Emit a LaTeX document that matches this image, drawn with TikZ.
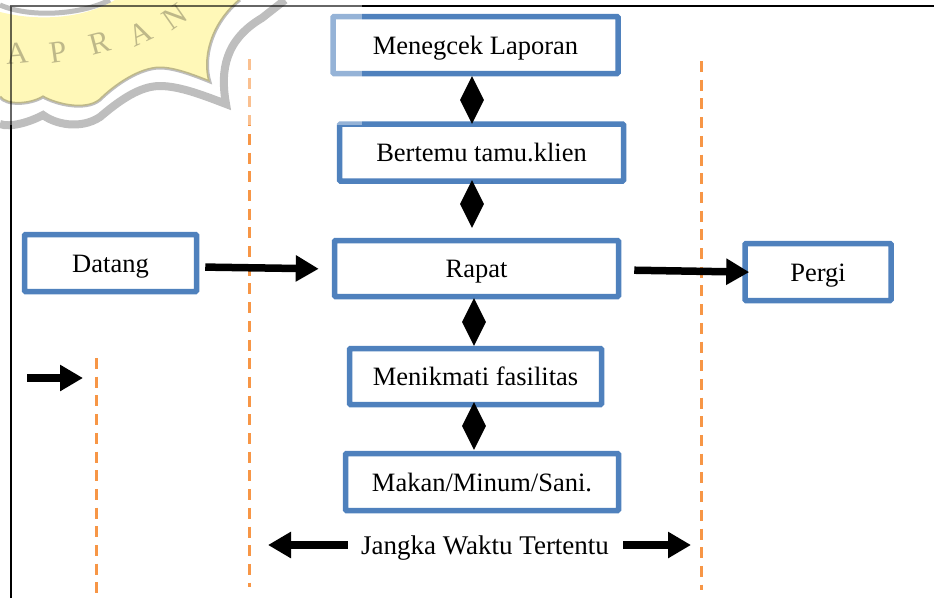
\documentclass[tikz,border=0pt]{standalone}
\usepackage{fontspec}
\setmainfont{Liberation Serif}
\usetikzlibrary{shapes.geometric, arrows.meta}
\definecolor{boxblue}{HTML}{4F81BD}
\definecolor{dashorange}{HTML}{F79646}
\definecolor{markyellow}{HTML}{FFF8B8}
\definecolor{markgray}{HTML}{BEBEBE}
\tikzset{
  textbox/.style={draw=boxblue, line width=5.5, fill=white, rounded corners=1, inner sep=0, align=center, text height=18, text depth=0, font=\fontsize{26.5}{30}\selectfont},
  linkdiamond/.style={diamond, fill=black, inner sep=0, minimum width=24, minimum height=48},
  thickarrow/.style={line width=7.5, -{Triangle[length=23,width=25]}},
  limitline/.style={dashorange, line width=3, dash pattern=on 11 off 7.7},
  markletter/.style={text=markgray, font=\fontsize{31}{31}\selectfont}
}
\begin{document}
\begin{tikzpicture}[x=1pt,y=-1pt]
    \useasboundingbox (0,0) rectangle (934,598);  % Fixes the page size
    \draw[line width=2] (11,598) -- (11,6) -- (934,6);  % Draws the frame
    \draw[limitline] (96,358) -- (96,594);  % Draws the dashed limit lines
    \draw[limitline] (249,59) -- (249,587);
    \draw[limitline] (701,61) -- (701,590);
    \node[textbox, minimum width=285, minimum height=57] (laporan) at (475.5,45) {Menegcek Laporan};  % Draws the activity boxes
    \node[textbox, minimum width=284, minimum height=57] (tamu) at (481.5,152.5) {Bertemu tamu.klien};
    \node[textbox, minimum width=284, minimum height=56] (rapat) at (476.5,268.5) {Rapat};
    \node[textbox, minimum width=252, minimum height=56] (fasilitas) at (475.5,376.5) {Menikmati fasilitas};
    \node[textbox, minimum width=273, minimum height=57] (makan) at (482,482) {Makan/Minum/Sani.};
    \node[textbox, minimum width=172, minimum height=57] (datang) at (110.5,263) {Datang};
    \node[textbox, minimum width=146, minimum height=57] (pergi) at (818,272) {Pergi};
    \node[linkdiamond] (linka) at (472,100) {};  % Draws the diamonds between the boxes
    \node[linkdiamond] (linkb) at (472,204) {};
    \node[linkdiamond] (linkc) at (474,322) {};
    \node[linkdiamond] (linkd) at (474,426) {};
    \draw[thickarrow, shorten <=6, shorten >=13] ([yshift=-4]datang.east) -- ([yshift=-0.5]rapat.west);  % Draws the big arrows
    \draw[thickarrow, shorten <=13, shorten >=-7] ([yshift=-1.5]rapat.east) -- (pergi.west);
    \coordinate (smalltail) at (27,378);
    \coordinate (smalltip) at (83,378);
    \draw[thickarrow] (smalltail) -- (smalltip);
    \node[font=\fontsize{27}{30}\selectfont, inner sep=0, text height=18, text depth=0] (jangka) at (485,545) {Jangka Waktu Tertentu};
    \coordinate (jangkakiri) at (268,545);
    \coordinate (jangkakanan) at (691,545);
    \draw[thickarrow, shorten <=13] (jangka.west) -- (jangkakiri);
    \draw[thickarrow, shorten <=14] (jangka.east) -- (jangkakanan);
    \fill[white, opacity=0.4] (0,0) rectangle (362,125);  % Fades what lies under the watermark
    \begin{scope}[blend mode=multiply]  % Lets the frame show through the watermark
    \fill[markyellow] (0,97) .. controls (6,106) and (30,105) .. (43,97) .. controls (55,104) and (85,112) .. (100,100) .. controls (115,85) and (140,68) .. (160,68) .. controls (175,68) and (195,76) .. (210,82) .. controls (203,60) and (210,25) .. (240,0) -- (115,0) .. controls (85,18) and (40,22) .. (0,12) -- cycle;
    \draw[markgray, line width=3] (0,97) .. controls (6,106) and (30,105) .. (43,97) .. controls (55,104) and (85,112) .. (100,100) .. controls (115,85) and (140,68) .. (160,68) .. controls (175,68) and (195,76) .. (210,82) .. controls (203,60) and (210,25) .. (240,0);
    \draw[markgray, line width=8] (0,124) .. controls (10,128) and (30,122) .. (43,115) .. controls (55,124) and (80,130) .. (100,117) .. controls (120,100) and (140,86) .. (160,86) .. controls (180,86) and (205,96) .. (226,104) .. controls (220,70) and (225,40) .. (262,18) -- (285,0);
    \draw[markgray, line width=5] (0,5) .. controls (30,18) and (80,15) .. (110,0);
    \node[markletter, rotate=5] (marka) at (17,53) {A};
    \node[markletter, rotate=8] (markp) at (58,52) {P};
    \node[markletter, rotate=15] (markr) at (100,43) {R};
    \node[markletter, rotate=25] (markb) at (140,33) {A};
    \node[markletter, rotate=35] (markn) at (175,17) {N};
    \end{scope}
\end{tikzpicture}
\end{document}
